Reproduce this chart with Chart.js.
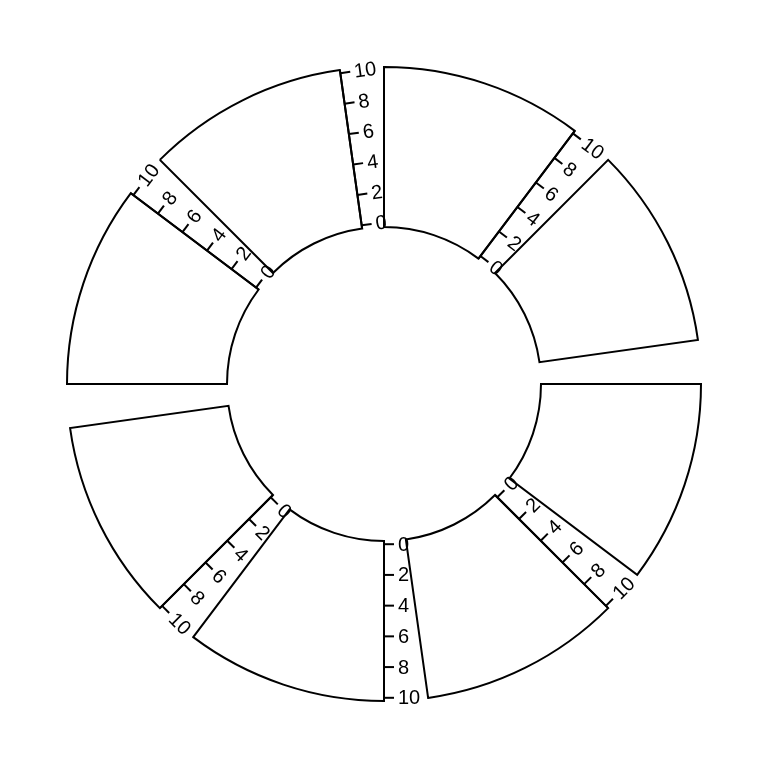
<!DOCTYPE html>
<html><head><meta charset="utf-8">
<script src="https://cdn.jsdelivr.net/npm/chart.js@4.4.0/dist/chart.umd.min.js"></script>
<style>html,body{margin:0;padding:0;background:#fff;}</style>
</head><body>
<canvas id="c" width="768" height="768"></canvas>
<script>
// ---- data ----
const sectorNames = ['a','b','c','d','e','f','g','h'];
const sectorXRange = [1,1,1,1,1,1,1,1];
const yMin = 0;
const yMax = 10;
const yTicks = [0,2,4,6,8,10];
const axisSide = ['end', null, null, 'start', 'start', 'start', 'end', 'end'];
const gapDegree = 8;
const cellPadding = 0.02; // fraction of track height above/below the y range

// ---- build dataset (sectors interleaved with gaps) ----
const totalX = sectorXRange.reduce((a,b)=>a+b,0);
const degPerX = (360 - gapDegree*sectorNames.length)/totalX;
const values=[], bg=[], bc=[], bw=[], labels=[];
sectorNames.forEach((n,i)=>{
  values.push(sectorXRange[i]*degPerX); bg.push('#ffffff'); bc.push('#000000'); bw.push(2); labels.push(n);
  values.push(gapDegree); bg.push('rgba(0,0,0,0)'); bc.push('rgba(0,0,0,0)'); bw.push(0); labels.push('gap'+i);
});

const axisPlugin = {
  id:'sectorAxes',
  afterDatasetsDraw(chart){
    const ctx = chart.ctx;
    const meta = chart.getDatasetMeta(0);
    const tickLen = 10, labGap = 4;
    ctx.save();
    ctx.strokeStyle = '#000'; ctx.fillStyle = '#000'; ctx.lineWidth = 2;
    ctx.font = '20px "Liberation Sans", Arial, sans-serif';
    ctx.textAlign = 'left'; ctx.textBaseline = 'middle';
    sectorNames.forEach((n,i)=>{
      const side = axisSide[i];
      if(!side) return;
      const arc = meta.data[2*i];
      const p = arc.getProps(['x','y','startAngle','endAngle','innerRadius','outerRadius'], true);
      const a = side === 'end' ? p.endAngle : p.startAngle;
      const ux = Math.cos(a), uy = Math.sin(a);
      const dx = side === 'end' ? -uy : uy;
      const dy = side === 'end' ? ux : -ux;
      const rot = Math.atan2(dy, dx);
      const H = p.outerRadius - p.innerRadius;
      const r0 = p.innerRadius + cellPadding*H, r1 = p.outerRadius - cellPadding*H;
      const rOf = v => r0 + (v - yMin)/(yMax - yMin)*(r1 - r0);
      ctx.beginPath();
      ctx.moveTo(p.x + p.innerRadius*ux, p.y + p.innerRadius*uy);
      ctx.lineTo(p.x + p.outerRadius*ux, p.y + p.outerRadius*uy);
      ctx.stroke();
      yTicks.forEach(v=>{
        const r = rOf(v);
        const bx = p.x + r*ux, by = p.y + r*uy;
        ctx.beginPath();
        ctx.moveTo(bx, by);
        ctx.lineTo(bx + tickLen*dx, by + tickLen*dy);
        ctx.stroke();
        const tx = bx + (tickLen+labGap)*dx, ty = by + (tickLen+labGap)*dy;
        ctx.save();
        ctx.translate(tx, ty);
        ctx.rotate(rot);
        ctx.fillText(String(v), 0, 1);
        ctx.restore();
      });
    });
    ctx.restore();
  }
};

new Chart(document.getElementById('c'), {
  type:'doughnut',
  data:{ labels, datasets:[{ data: values, backgroundColor: bg, borderColor: bc, borderWidth: bw, borderJoinStyle:'miter', borderAlign:'center', hoverOffset:0 }] },
  options:{
    responsive:false, animation:false, events:[],
    cutout:157, rotation:0, circumference:360,
    layout:{ padding:66 },
    plugins:{ legend:{display:false}, tooltip:{enabled:false} }
  },
  plugins:[axisPlugin]
});
</script>
</body></html>
